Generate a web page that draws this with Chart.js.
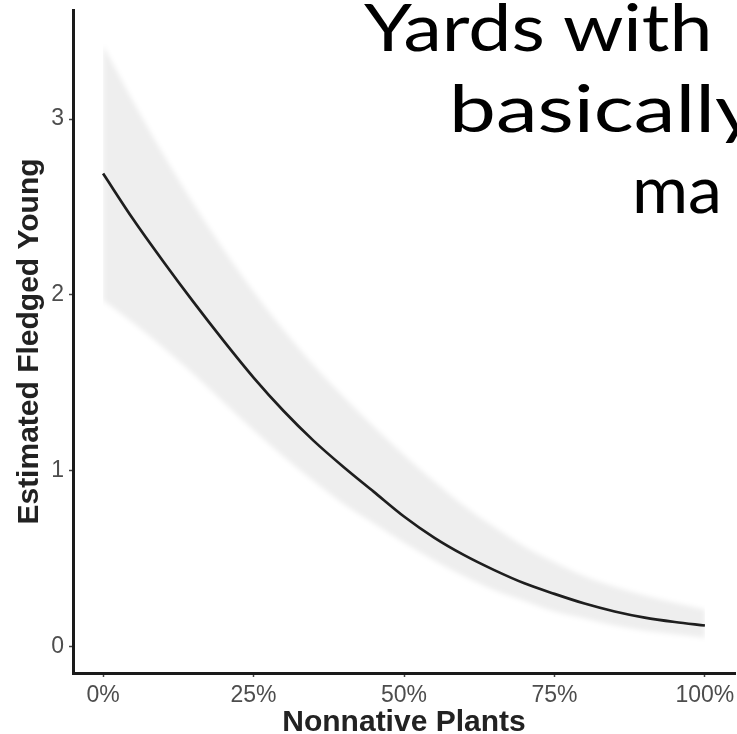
<!DOCTYPE html>
<html><head><meta charset="utf-8">
<script src="https://cdn.jsdelivr.net/npm/chart.js@4.4.1/dist/chart.umd.min.js"></script>
<style>
html,body{margin:0;padding:0;background:#fff;overflow:hidden;width:737px;height:734px}
#wrap{position:relative;width:737px;height:734px;overflow:hidden;background:#fff}
canvas{position:absolute;left:0;top:0}
.ov{position:absolute;font-family:Lato,"Open Sans",sans-serif;font-size:66px;line-height:1;color:#000;white-space:nowrap;transform-origin:0 0}
</style></head><body>
<div id="wrap"><canvas id="c" width="737" height="734"></canvas>
<div class="ov" id="t1">Yards with</div>
<div class="ov" id="t2">basically</div>
<div class="ov" id="t3">ma</div>
</div>
<script>
// ---- data ----
const nonnativePct = [0,5,10,15,20,25,30,35,40,45,50,55,60,65,70,75,80,85,90,95,100];
const fledgedFit   = [2.69,2.43,2.19,1.96,1.74,1.53,1.34,1.17,1.02,0.88,0.74,0.62,0.52,0.435,0.36,0.30,0.245,0.20,0.165,0.14,0.12];
const ciUpper      = [3.42,3.10,2.80,2.52,2.26,2.02,1.80,1.60,1.42,1.25,1.09,0.94,0.80,0.68,0.57,0.48,0.40,0.34,0.29,0.25,0.21];
const ciLower      = [1.97,1.84,1.70,1.55,1.39,1.23,1.08,0.94,0.81,0.70,0.59,0.49,0.40,0.32,0.26,0.20,0.16,0.12,0.09,0.07,0.05];
const xTickValues  = [0,25,50,75,100];
const yTickValues  = [0,1,2,3];
const xTitle = 'Nonnative Plants';
const yTitle = 'Estimated Fledged Young';

const pts = arr => nonnativePct.map((x,i)=>({x:x, y:arr[i]}));

const softBand = {
  id:'softBand',
  beforeDatasetsDraw(chart){ chart.ctx.filter = 'blur(2.5px)'; },
  afterDatasetDraw(chart, args){ if(args.index===1){ chart.ctx.filter = 'none'; } }
};

new Chart(document.getElementById('c').getContext('2d'), {
  type:'line',
  data:{datasets:[
    {label:'fit', data:pts(fledgedFit), borderColor:'#1e1e1e', borderWidth:2.7, pointRadius:0, fill:false, cubicInterpolationMode:'monotone'},
    {label:'upper', data:pts(ciUpper), borderWidth:0, borderColor:'rgba(0,0,0,0)', pointRadius:0, backgroundColor:'rgba(0,0,0,0.068)', fill:'+1', cubicInterpolationMode:'monotone'},
    {label:'lower', data:pts(ciLower), borderWidth:0, borderColor:'rgba(0,0,0,0)', pointRadius:0, fill:false, cubicInterpolationMode:'monotone'}
  ]},
  plugins:[softBand],
  options:{
    responsive:false, animation:false, devicePixelRatio:1,
    layout:{padding:{top:10,right:2,left:0,bottom:0}},
    plugins:{legend:{display:false}, tooltip:{enabled:false}},
    scales:{
      x:{type:'linear', min:-5, max:105,
        afterBuildTicks:s=>{s.ticks = xTickValues.map(v=>({value:v}));},
        afterFit:s=>{s.height = 61; s.paddingLeft = 0; s.paddingRight = 0;},
        ticks:{callback:v=>v+'%', color:'#4d4d4d', font:{family:'Liberation Sans', size:23}, padding:5, maxRotation:0, autoSkip:false},
        grid:{drawOnChartArea:false, drawTicks:true, tickLength:4, tickColor:'#444', tickWidth:1.5},
        border:{display:true, color:'#1a1a1a', width:3},
        title:{display:true, text:xTitle, color:'#222', font:{family:'Liberation Sans', size:30, weight:'bold', lineHeight:1}, padding:{top:0,bottom:-4}}
      },
      y:{type:'linear', min:-0.15, max:3.62,
        afterBuildTicks:s=>{s.ticks = yTickValues.map(v=>({value:v}));},
        afterFit:s=>{s.width = 73; s.paddingTop = 0; s.paddingBottom = 0;},
        ticks:{color:'#4d4d4d', font:{family:'Liberation Sans', size:23}, padding:5, autoSkip:false},
        grid:{drawOnChartArea:false, drawTicks:true, tickLength:4, tickColor:'#444', tickWidth:1.5},
        border:{display:true, color:'#1a1a1a', width:3},
        title:{display:true, text:yTitle, color:'#222', font:{family:'Liberation Sans', size:30, weight:'bold', lineHeight:1.2}, padding:{top:11.5,bottom:0}}
      }
    }
  }
});

// overlay slide text: each line fitted horizontally to the reference
(function(){
  const mc = document.createElement('canvas').getContext('2d');
  mc.font = '66px Lato';
  const w = s => mc.measureText(s).width;
  const asc = 0.887*66; // baseline offset from top for Lato at line-height 1
  const place=(id,left,base,k)=>{const el=document.getElementById(id); el.style.left=left+'px'; el.style.top=(base-asc)+'px'; el.style.transform='scaleX('+k+')';};
  place('t1',364,52, 350/w('Yards with'));
  place('t2',449,133, 266/w('basicall'));
  place('t3',632,214, 90/w('ma'));
})();
</script>
</body></html>
